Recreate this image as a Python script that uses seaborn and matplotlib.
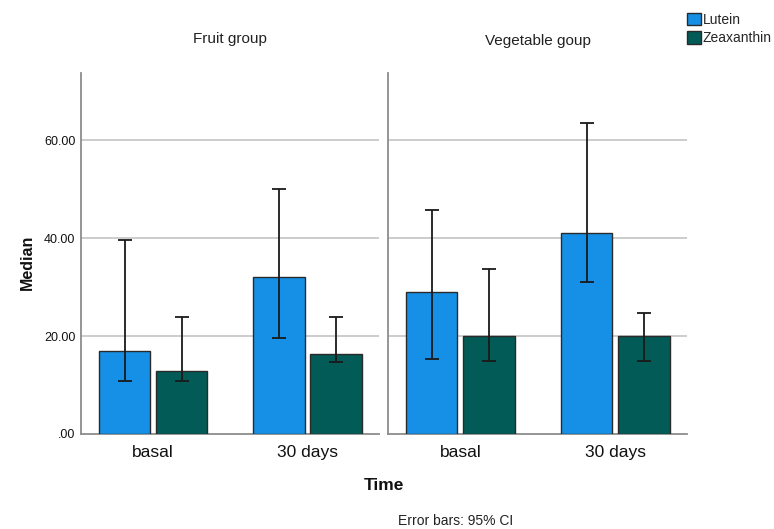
import matplotlib
matplotlib.use("Agg")
import matplotlib.pyplot as plt
import matplotlib.patches as mpatches
import numpy as np
import pandas as pd
import seaborn as sns

# Median carotenoid values per group, time point and pigment, with 95% CI bounds
groups = ["Fruit group", "Vegetable goup"]
times = ["basal", "30 days"]
pigments = ["Lutein", "Zeaxanthin"]

fruit_lutein = [17.0, 32.1]
fruit_zeax = [12.9, 16.3]
veg_lutein = [29.0, 41.0]
veg_zeax = [20.0, 20.0]

fruit_lutein_lo = [10.9, 19.5]
fruit_lutein_hi = [39.6, 50.0]
fruit_zeax_lo = [10.9, 14.8]
fruit_zeax_hi = [23.9, 23.8]
veg_lutein_lo = [15.4, 31.0]
veg_lutein_hi = [45.7, 63.4]
veg_zeax_lo = [14.9, 14.9]
veg_zeax_hi = [33.6, 24.8]

yticks = [0, 20, 40, 60]
ytick_labels = [".00", "20.00", "40.00", "60.00"]

colors = {"Lutein": "#1690E6", "Zeaxanthin": "#035B57"}

rows = []
series = {
    ("Fruit group", "Lutein"): (fruit_lutein, fruit_lutein_lo, fruit_lutein_hi),
    ("Fruit group", "Zeaxanthin"): (fruit_zeax, fruit_zeax_lo, fruit_zeax_hi),
    ("Vegetable goup", "Lutein"): (veg_lutein, veg_lutein_lo, veg_lutein_hi),
    ("Vegetable goup", "Zeaxanthin"): (veg_zeax, veg_zeax_lo, veg_zeax_hi),
}
for (g, p), (vals, lo, hi) in series.items():
    for t, v, l, h in zip(times, vals, lo, hi):
        rows.append({"group": g, "time": t, "pigment": p, "median": v, "lo": l, "hi": h})
df = pd.DataFrame(rows)

sns.set_theme(style="white")
plt.rcParams["font.family"] = ["Liberation Sans", "DejaVu Sans"]

fig = plt.figure(figsize=(7.74, 5.29), dpi=100)
W, H = 774, 529
panel_px = [(81, 379), (388, 687)]
title_baseline_px = [43, 45]
top_px, bottom_px = 73, 434

for i, g in enumerate(groups):
    x0, x1 = panel_px[i]
    ax = fig.add_axes([x0 / W, 1 - bottom_px / H, (x1 - x0) / W, (bottom_px - top_px) / H])
    sub = df[df["group"] == g]
    sns.barplot(data=sub, x="time", y="median", hue="pigment", order=times,
                hue_order=pigments, palette=colors, errorbar=None, width=0.74,
                gap=0.1, edgecolor="#2a2a2a", linewidth=1.0, saturation=1,
                legend=False, ax=ax, zorder=3)
    # error bars at the centres of the drawn bars
    for container, p in zip(ax.containers, pigments):
        ps = sub[sub["pigment"] == p].set_index("time").loc[times]
        for patch, (_, r) in zip(container.patches, ps.iterrows()):
            cx = patch.get_x() + patch.get_width() / 2
            ax.errorbar(cx, r["median"], yerr=[[r["median"] - r["lo"]], [r["hi"] - r["median"]]],
                        fmt="none", ecolor="#1a1a1a", elinewidth=1.3, capsize=5,
                        capthick=1.3, zorder=4)
    ax.set_ylim(0, 73.7)
    ax.set_xlim(-0.467, 1.463)
    ax.set_yticks(yticks)
    for y in yticks[1:]:
        ax.axhline(y, color="#c8c8c8", linewidth=1.3, zorder=1)
    ax.set_xlabel("")
    ax.set_ylabel("")
    ax.tick_params(axis="x", labelsize=12.5, length=0, pad=8, colors="#111111")
    ax.tick_params(axis="y", labelsize=9, length=0, pad=4, colors="#111111")
    if i == 0:
        ax.set_yticklabels(ytick_labels)
    else:
        ax.set_yticklabels([])
    for s in ["top", "right"]:
        ax.spines[s].set_visible(False)
    for s in ["left", "bottom"]:
        ax.spines[s].set_color("#8c8c8c")
        ax.spines[s].set_linewidth(1.3)
    ax.set_title(g, fontsize=11, color="#222222", pad=0,
                 y=(bottom_px - title_baseline_px[i]) / (bottom_px - top_px))

fig.text(27 / W, 1 - 262 / H, "Median", rotation=90, ha="center", va="center",
         fontsize=11.5, fontweight="bold", color="#111111")
fig.text(384 / W, 1 - 486 / H, "Time", ha="center", va="center",
         fontsize=12.5, fontweight="bold", color="#111111")
fig.text(456 / W, 1 - 521 / H, "Error bars: 95% CI", ha="center", va="center",
         fontsize=10, color="#222222")

handles = [mpatches.Patch(facecolor=colors[p], edgecolor="#2a2a2a", linewidth=1.0, label=p)
           for p in pigments]
fig.legend(handles=handles, loc="upper left", bbox_to_anchor=(687 / W, 1 - 13 / H),
           frameon=False, fontsize=10, handlelength=1.0, handleheight=1.0,
           handletextpad=0.15, labelspacing=0.3, borderaxespad=0, borderpad=0)

fig.savefig("out.png", dpi=100)
